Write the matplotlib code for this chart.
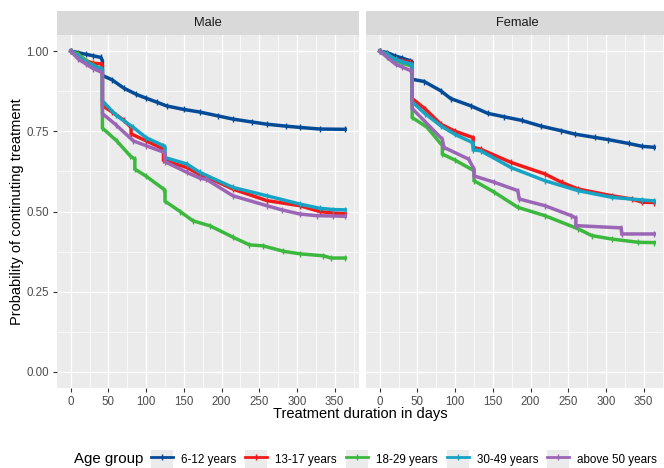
import matplotlib
matplotlib.use("Agg")
import matplotlib.pyplot as plt
from matplotlib.lines import Line2D
from matplotlib.patches import Patch
from matplotlib.legend_handler import HandlerTuple

plt.rcParams['font.family'] = ['Liberation Sans', 'DejaVu Sans']

# ── Daten ────────────────────────────────────────────────────────────────────
groups = ['6-12 years', '13-17 years', '18-29 years', '30-49 years', 'above 50 years']
colors = ['#034A97', '#F01A1A', '#3DB83F', '#17A3C3', '#9B66B5']
panels = ['Male', 'Female']

# Male
blue_m_days = [0, 10, 20, 30, 40, 42, 42, 55, 70, 87, 100, 115, 127, 150, 171, 195, 215, 240, 260, 285, 304, 330, 364]
blue_m_surv = [1.0, 0.995, 0.99, 0.985, 0.98, 0.97, 0.924, 0.91, 0.885, 0.865, 0.853, 0.84, 0.829, 0.818, 0.81, 0.798, 0.788, 0.779, 0.772, 0.766, 0.762, 0.757, 0.756]

red_m_days = [0, 10, 20, 30, 40, 42, 42, 55, 70, 80, 80, 100, 123, 123, 154, 171, 180, 215, 260, 304, 330, 348, 364]
red_m_surv = [1.0, 0.99, 0.97, 0.962, 0.96, 0.955, 0.83, 0.81, 0.785, 0.762, 0.742, 0.72, 0.695, 0.66, 0.637, 0.615, 0.608, 0.57, 0.534, 0.518, 0.5, 0.495, 0.493]

green_m_days = [0, 10, 20, 30, 40, 42, 42, 61, 79, 85, 85, 100, 123, 125, 125, 145, 162, 185, 215, 237, 255, 282, 304, 335, 345, 364]
green_m_surv = [1.0, 0.99, 0.97, 0.955, 0.945, 0.94, 0.76, 0.72, 0.673, 0.663, 0.632, 0.61, 0.57, 0.565, 0.532, 0.5, 0.471, 0.455, 0.42, 0.396, 0.393, 0.376, 0.368, 0.362, 0.355, 0.355]

cyan_m_days = [0, 10, 20, 30, 40, 42, 42, 60, 83, 100, 123, 125, 125, 154, 171, 215, 260, 304, 330, 348, 364]
cyan_m_surv = [1.0, 0.985, 0.965, 0.955, 0.945, 0.94, 0.845, 0.8, 0.762, 0.73, 0.705, 0.7, 0.668, 0.648, 0.622, 0.575, 0.549, 0.523, 0.51, 0.506, 0.505]

purple_m_days = [0, 10, 20, 30, 40, 42, 42, 60, 83, 100, 123, 125, 125, 154, 171, 180, 215, 260, 280, 304, 326, 348, 364]
purple_m_surv = [1.0, 0.975, 0.96, 0.945, 0.935, 0.925, 0.805, 0.77, 0.72, 0.705, 0.685, 0.68, 0.655, 0.622, 0.604, 0.6, 0.549, 0.518, 0.505, 0.492, 0.487, 0.486, 0.485]

# Female
blue_f_days = [0, 10, 20, 30, 40, 43, 43, 59, 81, 94, 121, 143, 165, 188, 214, 240, 259, 285, 303, 330, 348, 364]
blue_f_surv = [1.0, 0.995, 0.985, 0.978, 0.97, 0.965, 0.912, 0.905, 0.876, 0.852, 0.829, 0.806, 0.795, 0.784, 0.766, 0.752, 0.741, 0.731, 0.724, 0.712, 0.703, 0.70]

red_f_days = [0, 10, 21, 30, 40, 43, 43, 60, 81, 100, 124, 124, 134, 174, 219, 241, 263, 308, 334, 348, 364]
red_f_surv = [1.0, 0.99, 0.974, 0.97, 0.965, 0.96, 0.852, 0.82, 0.772, 0.75, 0.73, 0.70, 0.694, 0.653, 0.617, 0.591, 0.57, 0.549, 0.539, 0.529, 0.528]

green_f_days = [0, 10, 21, 30, 40, 43, 43, 63, 83, 83, 100, 125, 125, 152, 183, 219, 263, 281, 308, 343, 364]
green_f_surv = [1.0, 0.99, 0.97, 0.962, 0.955, 0.953, 0.793, 0.762, 0.705, 0.679, 0.66, 0.627, 0.596, 0.56, 0.513, 0.487, 0.446, 0.425, 0.414, 0.404, 0.403]

cyan_f_days = [0, 10, 21, 30, 40, 43, 43, 60, 81, 100, 121, 124, 124, 134, 174, 219, 263, 308, 348, 364]
cyan_f_surv = [1.0, 0.99, 0.974, 0.967, 0.96, 0.957, 0.842, 0.805, 0.767, 0.74, 0.717, 0.712, 0.692, 0.689, 0.637, 0.596, 0.565, 0.544, 0.536, 0.533]

purple_f_days = [0, 10, 21, 30, 40, 43, 43, 83, 85, 118, 125, 125, 152, 183, 185, 219, 254, 260, 260, 320, 321, 364]
purple_f_surv = [1.0, 0.98, 0.959, 0.95, 0.94, 0.935, 0.821, 0.725, 0.70, 0.663, 0.632, 0.611, 0.591, 0.565, 0.539, 0.518, 0.487, 0.48, 0.456, 0.449, 0.43, 0.43]

daten = {
    'Male': [(blue_m_days, blue_m_surv), (red_m_days, red_m_surv), (green_m_days, green_m_surv),
             (cyan_m_days, cyan_m_surv), (purple_m_days, purple_m_surv)],
    'Female': [(blue_f_days, blue_f_surv), (red_f_days, red_f_surv), (green_f_days, green_f_surv),
               (cyan_f_days, cyan_f_surv), (purple_f_days, purple_f_surv)],
}

# ── Layout ───────────────────────────────────────────────────────────────────
W, H = 664, 468
fig = plt.figure(figsize=(W / 100, H / 100), dpi=100, facecolor='white')

panel_left = [57, 366]
panel_w = 302
panel_top, panel_bot = 35, 388
strip_top = 11

for k, nome in enumerate(panels):
    x0 = panel_left[k] / W
    ax = fig.add_axes([x0, (H - panel_bot) / H, panel_w / W, (panel_bot - panel_top) / H])
    ax.set_facecolor('#EBEBEB')
    for s in ax.spines.values():
        s.set_visible(False)
    ax.set_xlim(-18.2, 382.2)
    ax.set_ylim(-0.05, 1.05)
    ax.set_xticks([0, 50, 100, 150, 200, 250, 300, 350])
    ax.set_xticks([25, 75, 125, 175, 225, 275, 325, 375], minor=True)
    ax.set_yticks([0, 0.25, 0.5, 0.75, 1.0])
    ax.set_yticks([0.125, 0.375, 0.625, 0.875], minor=True)
    ax.grid(True, which='major', color='white', linewidth=1.0)
    ax.grid(True, which='minor', color='white', linewidth=0.5)
    ax.set_axisbelow(True)
    ax.tick_params(which='minor', length=0)
    ax.tick_params(which='major', length=3, width=0.8, color='#333333',
                   labelsize=8.3, labelcolor='#4D4D4D', pad=3)
    if k == 0:
        ax.set_yticklabels(['0.00', '0.25', '0.50', '0.75', '1.00'])
    else:
        ax.tick_params(axis='y', left=False, labelleft=False)

    for (d, s), c in zip(daten[nome], colors):
        ax.plot(d, s, color=c, linewidth=2.5, marker='|', markersize=4,
                markeredgewidth=1.0, solid_joinstyle='miter')

    # Streifen oben
    sax = fig.add_axes([x0, (H - panel_top) / H, panel_w / W, (panel_top - strip_top) / H])
    sax.set_facecolor('#D9D9D9')
    sax.set_xticks([])
    sax.set_yticks([])
    for s in sax.spines.values():
        s.set_visible(False)
    sax.text(0.5, 0.5, nome, ha='center', va='center', fontsize=9.3, color='#1A1A1A',
             transform=sax.transAxes)

# Achsentitel
fig.text(360 / W, 1 - 414 / H, 'Treatment duration in days', ha='center', va='center',
         fontsize=10.5, color='black')
fig.text(17 / W, 1 - 212 / H, 'Probability of continuting treatment', ha='center', va='center',
         rotation=90, fontsize=10.5, color='black')

# Legende
fig.text(74 / W, 1 - 459 / H, 'Age group', ha='left', va='center', fontsize=10.8, color='black')
handles = [(Patch(facecolor='#EBEBEB', edgecolor='none'),
            Line2D([], [], color=c, linewidth=2.0, marker='|', markersize=4, markeredgewidth=1.0))
           for c in colors]
fig.legend(handles, groups, handler_map={tuple: HandlerTuple(ndivide=1)},
           loc='center left', bbox_to_anchor=(151 / W, 1 - 459 / H), ncol=5, frameon=False,
           fontsize=8.4, handlelength=1.89, handleheight=1.89, handletextpad=0.69,
           columnspacing=0.77, borderpad=0, borderaxespad=0)

plt.savefig('out.png', dpi=100, facecolor='white')
plt.close()
